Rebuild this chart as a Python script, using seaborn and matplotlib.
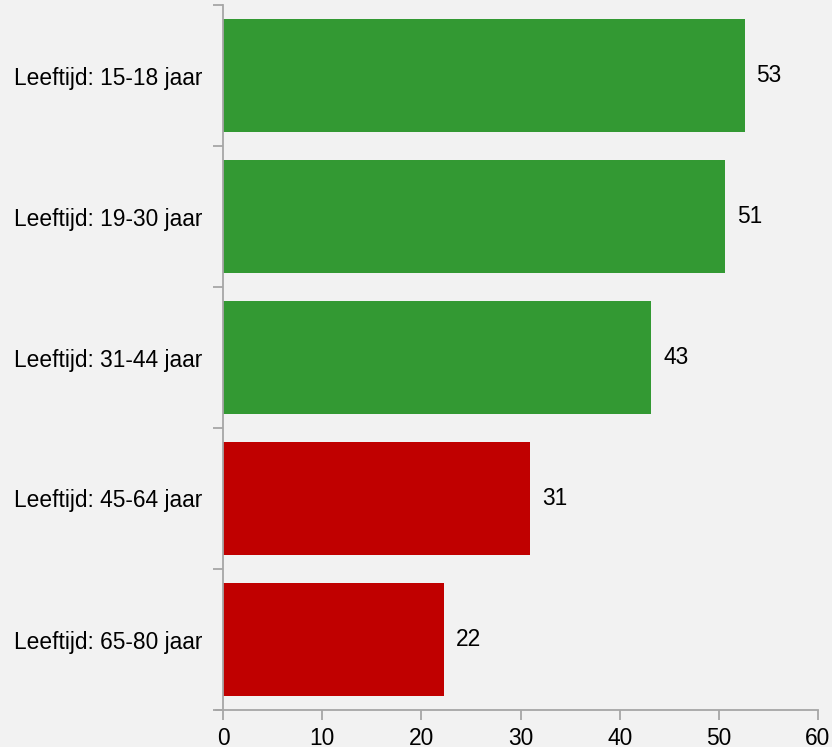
import matplotlib
matplotlib.use("Agg")
import matplotlib.pyplot as plt
import seaborn as sns
import pandas as pd
import numpy as np

categories = ["Leeftijd: 15-18 jaar", "Leeftijd: 19-30 jaar", "Leeftijd: 31-44 jaar",
              "Leeftijd: 45-64 jaar", "Leeftijd: 65-80 jaar"]
values = [52.6, 50.6, 43.2, 31.0, 22.3]
groups = ["hoog", "hoog", "hoog", "laag", "laag"]
x_ticks = [0, 10, 20, 30, 40, 50, 60]

palette = {"hoog": "#339933", "laag": "#c00000"}
bg = "#f2f2f2"
axis_col = "#a6a6a6"
fs = 16.4

sns.set_theme(style="white")
plt.rcParams["font.family"] = ["Liberation Sans", "DejaVu Sans"]

df = pd.DataFrame({"cat": categories, "val": values, "grp": groups})

fig = plt.figure(figsize=(8.32, 7.47), dpi=100, facecolor=bg)
ax = fig.add_axes([223 / 832, 1 - 710 / 747, (818 - 223) / 832, (710 - 5) / 747])
ax.set_facecolor(bg)

sns.barplot(data=df, y="cat", x="val", hue="grp", palette=palette, orient="h",
            dodge=False, width=0.8, legend=False, ax=ax, saturation=1, linewidth=0)

for i, v in enumerate(values):
    ax.text(v + 1.2, i, f"{v:.0f}", va="center", ha="left", fontsize=fs, color="#000000")

ax.set_xlim(0, 60)
ax.set_ylim(len(categories) - 0.5, -0.5)
ax.set_xticks(x_ticks)
ax.set_xticklabels([str(t) for t in x_ticks])

# tick marks at band boundaries, category labels centred on the bars
ax.set_yticks(np.arange(len(categories) + 1) - 0.5)
ax.set_yticklabels([])
ax.set_yticks(np.arange(len(categories)), minor=True)
ax.set_yticklabels(categories, minor=True)
ax.tick_params(axis="y", which="minor", left=True, length=0, pad=15,
               labelsize=fs, labelcolor="#000000")
ax.tick_params(axis="y", which="major", left=True, length=7, width=1.3,
               color=axis_col, direction="out")
ax.tick_params(axis="x", which="major", bottom=True, length=7, width=1.3,
               color=axis_col, direction="out", pad=5, labelsize=fs, labelcolor="#000000")

ax.set_xlabel("")
ax.set_ylabel("")
for s in ["top", "right"]:
    ax.spines[s].set_visible(False)
for s in ["left", "bottom"]:
    ax.spines[s].set_color(axis_col)
    ax.spines[s].set_linewidth(1.3)
ax.spines["bottom"].set_bounds(-0.7, 60)

fig.savefig("out.png", dpi=100, facecolor=bg)
